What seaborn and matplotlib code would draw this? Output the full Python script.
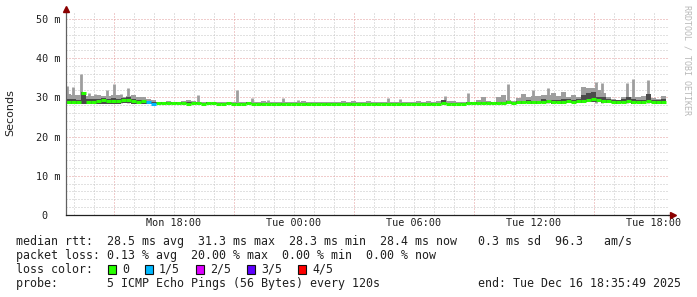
import numpy as np
import pandas as pd
import matplotlib
matplotlib.use("Agg")
import matplotlib.pyplot as plt
import seaborn as sns
from matplotlib.patches import Rectangle

# ---------------- data ----------------
# 15-minute bins starting Mon 12:35:49, values in milliseconds
median = [
    28.7, 28.8, 28.7, 31.2, 28.8, 28.9, 29.0, 29.3, 29.1, 29.0, 29.2, 29.3,
    29.4, 29.0, 28.9, 29.0, 28.7, 28.4, 28.6, 28.6, 28.5, 28.6, 28.5, 28.5,
    28.4, 28.5, 28.5, 28.4, 28.5, 28.5, 28.4, 28.4, 28.5, 28.4, 28.4, 28.4,
    28.5, 28.4, 28.4, 28.3, 28.4, 28.4, 28.4, 28.3, 28.4, 28.4, 28.4, 28.4,
    28.3, 28.4, 28.4, 28.4, 28.3, 28.4, 28.4, 28.4, 28.4, 28.3, 28.4, 28.4,
    28.4, 28.4, 28.3, 28.4, 28.4, 28.4, 28.4, 28.3, 28.4, 28.4, 28.4, 28.4,
    28.4, 28.3, 28.4, 28.5, 28.4, 28.4, 28.4, 28.4, 28.5, 28.5, 28.5, 28.6,
    28.5, 28.5, 28.6, 28.6, 28.7, 28.6, 28.7, 28.8, 28.9, 28.7, 28.8, 28.9,
    29.0, 28.8, 28.9, 28.8, 29.0, 28.9, 29.0, 29.1, 29.3, 29.5, 29.4, 29.2,
    29.0, 28.9, 28.8, 28.9, 29.0, 28.8, 28.9, 28.8, 29.2, 28.9, 28.8, 28.8,
]
smoke_min = [
    28.2, 28.3, 28.2, 28.3, 28.3, 28.3, 28.4, 28.4, 28.4, 28.3, 28.4, 28.5,
    28.5, 28.4, 28.3, 28.4, 28.3, 28.2, 28.3, 28.3, 28.3, 28.3, 28.3, 28.3,
    28.2, 28.3, 28.3, 28.2, 28.3, 28.3, 28.2, 28.2, 28.3, 28.2, 28.2, 28.2,
    28.3, 28.2, 28.2, 28.1, 28.2, 28.2, 28.2, 28.1, 28.2, 28.2, 28.2, 28.2,
    28.1, 28.2, 28.2, 28.2, 28.1, 28.2, 28.2, 28.2, 28.2, 28.1, 28.2, 28.2,
    28.2, 28.2, 28.1, 28.2, 28.2, 28.2, 28.2, 28.1, 28.2, 28.2, 28.2, 28.2,
    28.2, 28.1, 28.2, 28.3, 28.2, 28.2, 28.2, 28.2, 28.3, 28.3, 28.3, 28.3,
    28.3, 28.3, 28.4, 28.3, 28.4, 28.3, 28.4, 28.4, 28.5, 28.4, 28.4, 28.5,
    28.5, 28.4, 28.5, 28.4, 28.5, 28.5, 28.5, 28.6, 28.7, 28.8, 28.7, 28.6,
    28.5, 28.5, 28.4, 28.5, 28.5, 28.4, 28.5, 28.4, 28.7, 28.5, 28.4, 28.4,
]
smoke_dark = [
    29.6, 29.5, 29.3, 31.5, 29.6, 29.5, 29.6, 29.8, 29.7, 29.8, 29.6, 29.8,
    30.0, 29.6, 29.4, 29.3, 29.0, 28.8, 28.8, 28.8, 28.7, 28.8, 28.7, 28.7,
    28.7, 28.7, 28.8, 28.6, 28.7, 28.6, 28.6, 28.6, 28.6, 28.6, 28.6, 28.6,
    28.7, 28.6, 28.6, 28.5, 28.6, 28.6, 28.6, 28.5, 28.6, 28.6, 28.6, 28.6,
    28.5, 28.6, 28.6, 28.6, 28.5, 28.6, 28.6, 28.6, 28.6, 28.5, 28.6, 28.6,
    28.6, 28.6, 28.5, 28.6, 28.6, 28.6, 28.6, 28.5, 28.6, 28.6, 28.6, 28.6,
    28.6, 28.5, 28.6, 29.3, 28.6, 28.6, 28.6, 28.6, 28.7, 28.7, 28.7, 28.8,
    28.7, 28.7, 28.8, 28.8, 29.2, 28.9, 29.0, 29.1, 29.3, 29.1, 29.2, 29.6,
    29.4, 29.3, 29.4, 29.5, 29.6, 29.4, 29.5, 30.5, 31.0, 31.5, 30.2, 30.0,
    29.6, 29.4, 29.3, 29.5, 30.0, 29.6, 29.4, 29.3, 30.8, 29.4, 29.3, 29.5,
]
smoke_max = [
    30.8, 30.6, 30.5, 31.5, 30.3, 30.3, 30.7, 30.3, 30.4, 30.6, 30.5, 30.0,
    30.4, 30.7, 30.2, 30.0, 29.6, 29.3, 28.9, 28.8, 29.0, 28.8, 28.7, 29.0,
    29.3, 29.0, 28.9, 28.8, 28.7, 28.7, 28.7, 28.7, 28.8, 28.8, 28.7, 28.8,
    28.7, 28.8, 28.8, 29.0, 28.8, 28.8, 28.8, 28.8, 28.8, 28.9, 28.8, 29.2,
    28.8, 28.7, 28.7, 28.7, 28.7, 28.7, 28.8, 29.2, 28.7, 29.1, 28.7, 28.7,
    29.0, 28.7, 28.7, 28.7, 28.8, 28.7, 28.8, 28.7, 28.7, 28.8, 29.1, 28.8,
    29.1, 28.8, 29.0, 29.3, 29.2, 29.1, 28.8, 28.8, 28.8, 28.9, 29.3, 30.2,
    29.2, 28.9, 30.2, 30.6, 29.4, 29.2, 29.8, 30.8, 30.0, 30.4, 30.4, 30.6,
    30.6, 31.0, 30.4, 31.5, 30.0, 30.6, 30.2, 32.7, 32.3, 32.5, 32.0, 31.0,
    30.2, 29.5, 29.3, 30.2, 30.2, 30.2, 30.2, 30.4, 30.8, 29.8, 29.6, 30.3,
]
# packets lost per bin (out of 5)
loss = [0] * 16 + [1, 1] + [0] * 102

# isolated narrow peaks of the smoke (hours since Mon 00:00, top in ms)
spike_hours = [12.65, 12.95, 13.35, 13.75, 14.05, 14.67, 15.0, 15.35, 15.7,
               19.2, 21.15, 21.9, 22.7, 23.45, 24.2, 28.7, 29.3, 31.55, 32.7,
               34.7, 35.95, 36.7, 39.1, 39.4, 40.65, 40.95, 41.7]
spike_tops = [32.9, 32.6, 36.0, 31.0, 30.9, 32.0, 33.4, 30.9, 32.5,
              30.6, 31.9, 29.8, 29.3, 29.8, 29.3, 29.8, 29.7, 30.4, 31.0,
              33.3, 31.8, 32.3, 34.0, 33.6, 33.6, 34.8, 34.4]

xtick_hours = [18, 24, 30, 36, 42]
xtick_labels = ["Mon 18:00", "Tue 00:00", "Tue 06:00", "Tue 12:00", "Tue 18:00"]
ytick_values = [0, 10, 20, 30, 40, 50]
ytick_labels = ["0  ", "10 m", "20 m", "30 m", "40 m", "50 m"]

loss_labels = ["0", "1/5", "2/5", "3/5", "4/5"]
loss_colors = ["#26ff00", "#00b8ff", "#dd00ff", "#5e00ff", "#ff0000"]

stat_line1 = "median rtt:  28.5 ms avg  31.3 ms max  28.3 ms min  28.4 ms now   0.3 ms sd  96.3   am/s"
stat_line2 = "packet loss: 0.13 % avg  20.00 % max  0.00 % min  0.00 % now"
probe_line = "probe:       5 ICMP Echo Pings (56 Bytes) every 120s"
end_line = "end: Tue Dec 16 18:35:49 2025"

# ---------------- figure ----------------
sns.set_style("white")
plt.rcParams['font.family'] = ['DejaVu Sans Mono']

W, H = 697, 297
fig = plt.figure(figsize=(W / 100, H / 100), dpi=100)
fig.patch.set_facecolor("white")


def fx(px):
    return px / W


def fy(py):
    return 1 - py / H


ax = fig.add_axes([fx(66), fy(215), 602 / W, 202 / H])
ax.set_facecolor("white")

START = 12 + 35 / 60 + 49 / 3600
STEP = 0.25
n = len(median)
edges = START + STEP * np.arange(n + 1)

ax.set_xlim(START, START + 602 / 20)
ax.set_ylim(0, 202 / 3.92)

# grid
dot = (0, (1, 2))
for h in range(13, 43):
    major = (h - 15) % 6 == 0
    ax.axvline(h, color="#e39a9a" if major else "#c4c4c4", lw=0.72, ls=dot, zorder=0)
for v in range(2, 52, 2):
    major = v % 10 == 0
    ax.axhline(v, color="#e39a9a" if major else "#c4c4c4", lw=0.72, ls=dot, zorder=0)

# smoke
SMOKE = "#9e9e9e"
ax.stairs(smoke_max, edges, baseline=smoke_min, fill=True, color=SMOKE, lw=0, zorder=2)
ax.vlines(spike_hours, 28.6, spike_tops, color=SMOKE, lw=2.0, zorder=2)
ax.stairs(smoke_dark, edges, baseline=smoke_min, fill=True, color="#4a4a4a", lw=0, zorder=3)

# median band (horizontal segments per bin, coloured by loss)
rows = []
for i in range(n):
    rows.append({"t": edges[i], "rtt": median[i], "bin": i, "loss": loss[i]})
    rows.append({"t": edges[i + 1], "rtt": median[i], "bin": i, "loss": loss[i]})
df = pd.DataFrame(rows)
before = len(ax.lines)
sns.lineplot(data=df, x="t", y="rtt", units="bin", estimator=None, hue="loss",
             palette={0: loss_colors[0], 1: loss_colors[1]}, linewidth=2.2,
             legend=False, sort=False, ax=ax, zorder=4)
for ln in ax.lines[before:]:
    ln.set_solid_capstyle("butt")
ax.set_xlabel("")
ax.set_ylabel("")

# axes, ticks
for s in ["top", "right"]:
    ax.spines[s].set_visible(False)
ax.spines["left"].set_color("#606060")
ax.spines["left"].set_linewidth(0.9)
ax.spines["bottom"].set_color("#202020")
ax.spines["bottom"].set_linewidth(0.9)
ax.spines["left"].set_zorder(5)
ax.spines["bottom"].set_zorder(5)

ax.set_xticks(xtick_hours, labels=xtick_labels)
ax.set_yticks(ytick_values, labels=ytick_labels)
ax.tick_params(axis="x", length=0, pad=2.5, labelsize=7.3, colors="#202020")
ax.tick_params(axis="y", length=0, pad=4, labelsize=7.3, colors="#202020")
ax.set_xticks(np.arange(13, 43), minor=True)
ax.tick_params(axis="x", which="minor", length=2, direction="inout", color="#909090", width=0.7)

# arrows at axis ends
ax.plot([1.0, 1.0075], [0, 0], transform=ax.transAxes, color="#202020", lw=0.9, clip_on=False, zorder=5)
ax.plot([1.0075], [0], transform=ax.transAxes, marker=">", ms=4, color="#8b0000", clip_on=False, zorder=6)
ax.plot([0, 0], [1.0, 1.02], transform=ax.transAxes, color="#606060", lw=0.9, clip_on=False, zorder=5)
ax.plot([0], [1.02], transform=ax.transAxes, marker="^", ms=4, color="#8b0000", clip_on=False, zorder=6)

# labels
fig.text(fx(10), fy(113), "Seconds", rotation=90, ha="center", va="center",
         fontsize=8, family="DejaVu Sans", color="#202020")
fig.text(fx(687), fy(60), "RRDTOOL / TOBI OETIKER", rotation=270, ha="center", va="center",
         fontsize=6, color="#b8b8b8")

# legend / stats
FS = 8.4
fig.text(fx(16), fy(245), stat_line1, fontsize=FS, color="#202020")
fig.text(fx(16), fy(259), stat_line2, fontsize=FS, color="#202020")
fig.text(fx(16), fy(273), "loss color:", fontsize=FS, color="#202020")
box_x = [108, 145, 196, 247, 298]
for bx, lab, col in zip(box_x, loss_labels, loss_colors):
    fig.add_artist(Rectangle((fx(bx), fy(274)), 8 / W, 9 / H, transform=fig.transFigure,
                             facecolor=col, edgecolor="#101010", lw=0.8))
    fig.text(fx(bx + 14), fy(273), lab, fontsize=FS, color="#202020")
fig.text(fx(16), fy(287), probe_line, fontsize=FS, color="#202020")
fig.text(fx(681), fy(287), end_line, fontsize=FS, color="#202020", ha="right")

fig.savefig("out.png", dpi=100, facecolor="white")
